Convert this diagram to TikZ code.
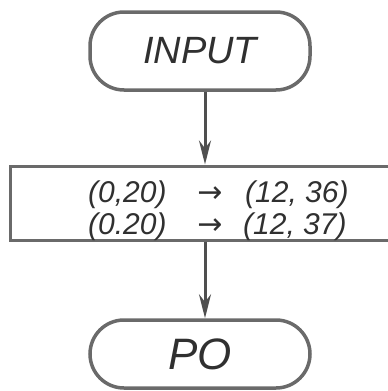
\documentclass[tikz,border=0pt]{standalone}
\usepackage{fontspec}
\setmainfont{Liberation Sans}
\newfontfamily\symfont{DejaVu Sans}
\usetikzlibrary{arrows.meta}
\definecolor{pencil}{HTML}{6A6A6A}
\definecolor{ink}{HTML}{303030}
\begin{document}
\begin{tikzpicture}[x=1pt,y=-1pt,
  terminal/.style={draw=pencil, line width=3.5pt, rounded corners=34pt,
    minimum width=220pt, inner sep=0pt, text=ink, font=\itshape},
  procbox/.style={draw=pencil, line width=3pt, minimum width=382pt,
    minimum height=74pt, inner sep=0pt},
  txt/.style={text=ink, font=\fontsize{30}{33}\selectfont\itshape, inner sep=0pt, anchor=base west},
  flow/.style={draw=ink!85, line width=3pt, -{Stealth[length=24pt,width=12pt]}}]
\useasboundingbox (0,0) rectangle (388,391);
\node[terminal, minimum height=78pt, font=\fontsize{38}{40}\selectfont\itshape] (input) at (200,51) {INPUT\hspace{14pt}};
\node[procbox] (proc) at (201,203) {};
\node[terminal, minimum height=68pt, font=\fontsize{44}{46}\selectfont\itshape] (po) at (200,354) {PO\hspace{6pt}};
\node[txt] (a1) at (88,202) {(0,20)};
\node[txt, anchor=base] (r1) at (210,202) {\symfont →};
\node[txt] (b1) at (245,202) {(12, 36)};
\node[txt] (a2) at (88,234) {(0.20)};
\node[txt, anchor=base] (r2) at (210,234) {\symfont →};
\node[txt] (b2) at (243,234) {(12, 37)};
\draw[flow] ([xshift=5pt]input.south) -- ([xshift=5pt]input.south |- proc.north);
\draw[flow] ([xshift=5pt]input.south |- proc.south) -- ([xshift=5pt]input.south |- po.north);
\end{tikzpicture}
\end{document}
